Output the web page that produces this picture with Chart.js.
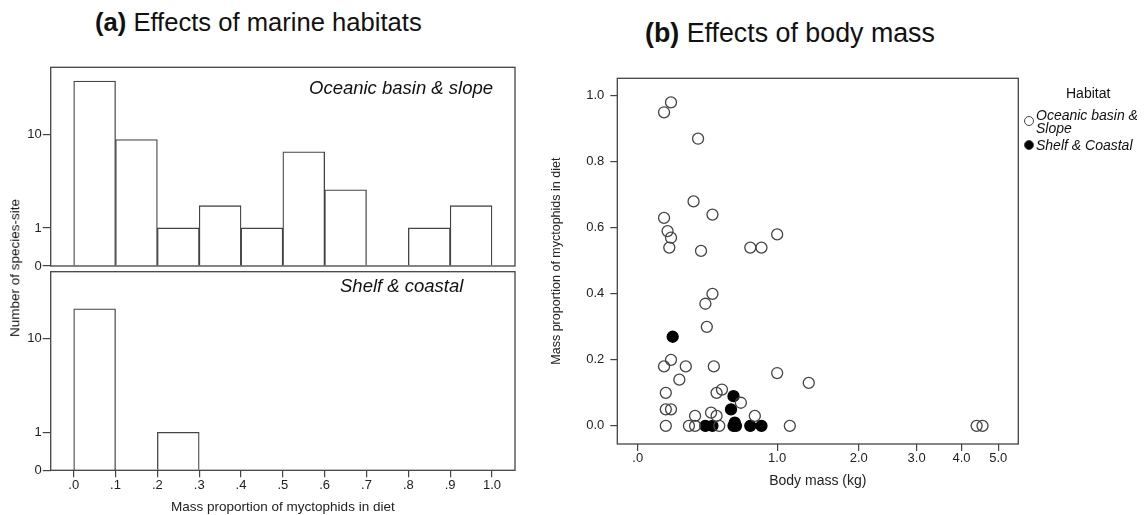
<!DOCTYPE html>
<html>
<head>
<meta charset="utf-8">
<script src="https://cdn.jsdelivr.net/npm/chart.js@4.4.0/dist/chart.umd.min.js"></script>
<style>
body { margin:0; width:1146px; height:515px; position:relative; background:#fff; overflow:hidden;
       font-family:"Liberation Sans", Arial, sans-serif; color:#111; }
canvas { position:absolute; }
.t { position:absolute; white-space:nowrap; line-height:1; }
.title b { font-weight:bold; }
.lab { font-style:italic; font-size:18.5px; }
.leg { font-size:14px; }
.dot { position:absolute; width:8px; height:8px; border-radius:50%; border:1.3px solid #444; background:#fff; }
</style>
</head>
<body>
<div class="t title" style="left:95px;top:10px;font-size:25.6px"><b>(a)</b> Effects of marine habitats</div>
<div class="t title" style="left:645px;top:20px;font-size:26.8px"><b>(b)</b> Effects of body mass</div>

<canvas id="histTop" width="540" height="280" style="left:0;top:0"></canvas>
<canvas id="histBottom" width="540" height="253" style="left:0;top:262px"></canvas>
<canvas id="scatter" width="606" height="440" style="left:540px;top:60px"></canvas>

<div class="t lab" style="left:309px;top:79px">Oceanic basin &amp; slope</div>
<div class="t lab" style="left:340px;top:277px">Shelf &amp; coastal</div>
<div class="t" style="left:15px;top:268px;font-size:13.5px;transform:translate(-50%,-50%) rotate(-90deg)">Number of species-site</div>

<div class="t leg" style="left:1066px;top:86px">Habitat</div>
<span class="dot" style="left:1024px;top:116px"></span>
<div class="t leg" style="left:1036px;top:109px;font-style:italic;line-height:13px">Oceanic basin &amp;<br>Slope</div>
<span class="dot" style="left:1024px;top:140px;background:#000"></span>
<div class="t leg" style="left:1036px;top:138px;font-style:italic">Shelf &amp; Coastal</div>

<script>
// histogram bins (mass proportion of myctophids in diet)
const binStarts = [0, 0.1, 0.2, 0.3, 0.4, 0.5, 0.6, 0.7, 0.8, 0.9];
const binEdges = [0, 0.1, 0.2, 0.3, 0.4, 0.5, 0.6, 0.7, 0.8, 0.9, 1.0];
const binEdgeLabels = ['.0', '.1', '.2', '.3', '.4', '.5', '.6', '.7', '.8', '.9', '1.0'];
const oceanicCounts = [28, 9, 1, 2, 1, 7, 3, 0, 1, 2];
const shelfCounts = [18, 0, 1, 0, 0, 0, 0, 0, 0, 0];
const countTicks = [0, 1, 10];

// scatter: body mass (kg) vs mass proportion
const oceanicMass = [0.14, 0.18, 0.35, 0.32, 0.14, 0.45, 0.16, 0.18, 0.17, 0.37, 0.75, 0.85, 1.0,
  0.45, 0.40, 0.41, 0.14, 0.18, 0.27, 0.46, 1.0, 1.34, 0.23, 0.15, 0.48, 0.52, 0.67, 0.15, 0.18,
  0.44, 0.48, 0.33, 0.79, 0.15, 0.29, 0.33, 0.50, 1.13, 4.39, 4.55];
const oceanicProp = [0.95, 0.98, 0.87, 0.68, 0.63, 0.64, 0.59, 0.57, 0.54, 0.53, 0.54, 0.54, 0.58,
  0.40, 0.37, 0.30, 0.18, 0.20, 0.18, 0.18, 0.16, 0.13, 0.14, 0.10, 0.10, 0.11, 0.07, 0.05, 0.05,
  0.04, 0.03, 0.03, 0.03, 0, 0, 0, 0, 0, 0, 0];
const shelfMass = [0.19, 0.61, 0.59, 0.62, 0.40, 0.45, 0.61, 0.63, 0.75, 0.85];
const shelfProp = [0.27, 0.09, 0.05, 0.01, 0, 0, 0, 0, 0, 0];
const massTicks = [0, 1, 2, 3, 4, 5];
const massTickLabels = ['.0', '1.0', '2.0', '3.0', '4.0', '5.0'];
const propTicks = [0, 0.2, 0.4, 0.6, 0.8, 1.0];

const FONT = '"Liberation Sans", Arial, sans-serif';
const INK = '#444';
const lg = v => Math.log10(v + 1);

const framePlugin = {
  id: 'frame',
  afterDatasetsDraw(chart) {
    const { ctx, chartArea: a } = chart;
    ctx.save();
    ctx.strokeStyle = INK;
    ctx.lineWidth = 1.3;
    ctx.strokeRect(a.left, a.top, a.right - a.left, a.bottom - a.top);
    ctx.restore();
  }
};

function histChart(id, counts, showX, pad) {
  const data = binStarts.map((s, i) => ({ x: s + 0.05, y: counts[i] > 0 ? lg(counts[i]) : null }));
  return new Chart(document.getElementById(id), {
    type: 'bar',
    data: { datasets: [{
      data: data,
      backgroundColor: '#fff',
      borderColor: INK,
      borderWidth: 1.3,
      borderSkipped: 'start',
      barPercentage: 1,
      categoryPercentage: 1
    }] },
    options: {
      responsive: false,
      devicePixelRatio: 1,
      animation: false,
      layout: { padding: pad },
      plugins: { legend: { display: false }, tooltip: { enabled: false } },
      scales: {
        x: {
          type: 'linear', min: -0.055, max: 1.055, offset: false, display: showX,
          afterBuildTicks: s => { s.ticks = binEdges.map(v => ({ value: v })); },
          afterFit: s => { s.height = showX ? 44.7 : 0; },
          grid: { offset: false, drawOnChartArea: false, tickLength: 7, color: INK, lineWidth: 1.2 },
          border: { display: false },
          ticks: { padding: 0, color: '#222', font: { family: FONT, size: 13 },
                   callback: (v, i) => binEdgeLabels[i] },
          title: { display: true, text: 'Mass proportion of myctophids in diet', color: '#222',
                   padding: 0, font: { family: FONT, size: 13.5 } }
        },
        y: {
          min: 0, max: 1.572,
          afterBuildTicks: s => { s.ticks = countTicks.map(c => ({ value: lg(c) })); },
          afterFit: s => { s.width = 50.7; },
          grid: { drawOnChartArea: false, tickLength: 8, color: INK, lineWidth: 1.2 },
          border: { display: false },
          ticks: { padding: 1, color: '#222', font: { family: FONT, size: 13 },
                   callback: (v, i) => String(countTicks[i]) }
        }
      }
    },
    plugins: [framePlugin]
  });
}

histChart('histTop', oceanicCounts, false, { top: 67.3, right: 25, bottom: 14, left: 0 });
histChart('histBottom', shelfCounts, true, { top: 9.7, right: 25, bottom: 0, left: 0 });

new Chart(document.getElementById('scatter'), {
  type: 'scatter',
  data: { datasets: [
    { label: 'Oceanic basin & Slope',
      data: oceanicMass.map((m, i) => ({ x: lg(m), y: oceanicProp[i] })),
      pointRadius: 5.5, pointBorderWidth: 1.3, pointBorderColor: INK, pointBackgroundColor: 'rgba(255,255,255,0)' },
    { label: 'Shelf & Coastal',
      data: shelfMass.map((m, i) => ({ x: lg(m), y: shelfProp[i] })),
      pointRadius: 5.5, pointBorderWidth: 1.3, pointBorderColor: '#000', pointBackgroundColor: '#000' }
  ] },
  options: {
    responsive: false,
    devicePixelRatio: 1,
    animation: false,
    layout: { padding: { top: 18.3, right: 127.7, bottom: 0, left: 0 } },
    plugins: { legend: { display: false }, tooltip: { enabled: false } },
    scales: {
      x: {
        type: 'linear', min: -0.044, max: 0.8215,
        afterBuildTicks: s => { s.ticks = massTicks.map(v => ({ value: lg(v) })); },
        afterFit: s => { s.height = 56; },
        grid: { drawOnChartArea: false, tickLength: 7, color: INK, lineWidth: 1.2 },
        border: { display: false },
        ticks: { padding: 0, color: '#222', font: { family: FONT, size: 13 },
                 callback: (v, i) => massTickLabels[i] },
        title: { display: true, text: 'Body mass (kg)', color: '#222',
                 padding: { top: 0, bottom: 10.6 }, font: { family: FONT, size: 14 } }
      },
      y: {
        min: -0.055, max: 1.053,
        afterBuildTicks: s => { s.ticks = propTicks.map(v => ({ value: v })); },
        afterFit: s => { s.width = 77.3; },
        grid: { drawOnChartArea: false, tickLength: 7, color: INK, lineWidth: 1.2 },
        border: { display: false },
        ticks: { padding: 6, color: '#222', font: { family: FONT, size: 13 },
                 callback: (v, i) => propTicks[i].toFixed(1) },
        title: { display: true, text: 'Mass proportion of myctophids in diet', color: '#222',
                 padding: { top: 9.5, bottom: 0 }, font: { family: FONT, size: 12.5 } }
      }
    }
  },
  plugins: [framePlugin]
});
</script>
</body>
</html>
